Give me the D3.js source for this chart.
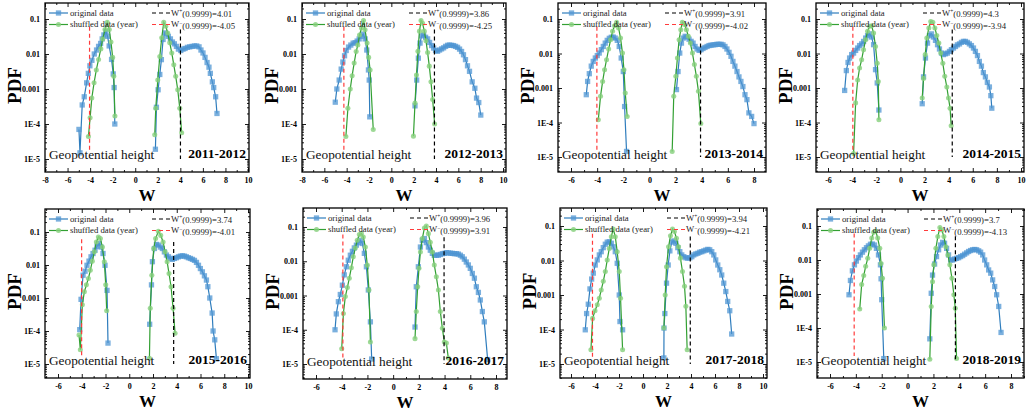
<!DOCTYPE html>
<html>
<head>
<meta charset="utf-8">
<script src="https://cdn.jsdelivr.net/npm/d3@7"></script>
<style>
body { margin: 0; background: #fff; }
svg { display: block; font-family: "Liberation Serif", "Times New Roman", serif; }
</style>
</head>
<body>
<svg id="chart" width="1026" height="416"></svg>
<script>
// ---- values ----
var years = ["2011-2012", "2012-2013", "2013-2014", "2014-2015",
             "2015-2016", "2016-2017", "2017-2018", "2018-2019"];
var wPlus = [4.01, 3.86, 3.91, 4.3, 3.74, 3.96, 3.94, 3.7];
var wMinus = [-4.05, -4.25, -4.02, -3.94, -4.01, -3.91, -4.21, -4.13];
var wMinusText = ["-4.05", "-4.25", "-4.02", "-3.94", "-4.01", "3.91", "-4.21", "-4.13"];
var xLabelRange = [[-8, 10], [-8, 10], [-6, 8], [-6, 10], [-6, 10], [-6, 8], [-6, 10], [-6, 8]];
var yTickValues = [1e-5, 1e-4, 1e-3, 1e-2, 1e-1];
var yTickText = ["1E-5", "1E-4", "0.001", "0.01", "0.1"];
var seriesNames = ["original data", "shuffled data (year)"];

var origNeg2011 = [[-4.99,7e-5],[-4.9,1.5e-5],[-4.7,3.5e-4],[-4.52,6e-4],[-4.31,1.5e-3],[-4.16,2.8e-3],[-4.02,4.6e-3],[-3.84,6.6e-3],[-3.63,0.010],[-3.43,0.013],[-3.25,0.0165],[-3.07,0.020],[-2.93,0.027],[-2.78,0.035],[-2.6,0.044],[-2.45,0.032],[-2.31,0.017],[-2.1,0.007],[-1.95,2.7e-3],[-1.87,1.1e-3],[-1.81,1e-4]];
var shufNeg2011 = [[-4.15,4.4e-5],[-4.0,1.5e-4],[-3.85,5.5e-4],[-3.65,1.5e-3],[-3.45,3.5e-3],[-3.25,7e-3],[-3.05,0.014],[-2.88,0.027],[-2.68,0.05],[-2.48,0.08],[-2.3,0.05],[-2.15,0.022],[-2.0,0.008],[-1.9,2.3e-3],[-1.8,1.7e-4]];
var origPos2011 = [[1.79,1.9e-5],[1.88,3e-4],[2.03,9.5e-4],[2.18,2.6e-3],[2.32,6.9e-3],[2.47,0.026],[2.62,0.04],[2.77,0.037],[2.94,0.032],[3.12,0.027],[3.3,0.022],[3.47,0.0195],[3.65,0.0165],[3.83,0.0138],[4.04,0.0126],[4.24,0.0138],[4.42,0.0144],[4.63,0.0155],[4.83,0.016],[5.04,0.0165],[5.25,0.017],[5.45,0.017],[5.66,0.016],[5.83,0.013],[6.01,0.0107],[6.19,8e-3],[6.37,5.7e-3],[6.54,4.2e-3],[6.66,2.8e-3],[6.84,1.6e-3],[6.96,1.1e-3],[7.13,6e-4],[7.25,2e-4]];
var shufPos2011 = [[1.73,4.9e-5],[1.82,2.8e-4],[2.0,1.8e-3],[2.18,8.5e-3],[2.35,0.029],[2.53,0.08],[2.71,0.062],[2.88,0.04],[3.06,0.021],[3.24,0.0107],[3.42,4.9e-3],[3.59,2.3e-3],[3.77,9.5e-4],[3.95,2.8e-4],[4.12,5.6e-5]];

var origNeg2012 = [[-5.02,4.2e-4],[-4.88,1e-3],[-4.67,1.8e-3],[-4.49,3.7e-3],[-4.34,5.9e-3],[-4.19,8.9e-3],[-4.04,0.0126],[-3.83,0.0158],[-3.63,0.018],[-3.42,0.0204],[-3.24,0.021],[-3.06,0.0234],[-2.88,0.027],[-2.7,0.032],[-2.52,0.037],[-2.35,0.027],[-2.2,0.013],[-2.05,3.5e-3],[-1.98,1.8e-3],[-1.93,1.6e-4]];
var shufNeg2012 = [[-4.07,4.4e-5],[-3.89,2.8e-4],[-3.68,1e-3],[-3.51,2.4e-3],[-3.33,5.5e-3],[-3.15,0.0118],[-3.0,0.018],[-2.85,0.035],[-2.67,0.055],[-2.49,0.091],[-2.35,0.049],[-2.17,0.0205],[-2.03,8e-3],[-1.9,3.5e-3],[-1.62,7e-5]];
var origPos2012 = [[2.12,3.3e-4],[2.27,1.8e-3],[2.42,7.6e-3],[2.57,0.0205],[2.71,0.033],[2.89,0.035],[3.07,0.030],[3.25,0.027],[3.43,0.0214],[3.61,0.0174],[3.79,0.0148],[3.96,0.0126],[4.14,0.012],[4.32,0.013],[4.5,0.014],[4.68,0.015],[4.86,0.0165],[5.04,0.0177],[5.21,0.018],[5.39,0.0177],[5.57,0.0174],[5.75,0.0165],[5.93,0.0155],[6.11,0.0138],[6.29,0.0118],[6.46,9.5e-3],[6.64,6.9e-3],[6.82,4.6e-3],[7.0,3.2e-3],[7.24,1.6e-3],[7.48,1.05e-3],[7.63,5.5e-4],[7.83,4.1e-4],[8.01,1.8e-4]];
var shufPos2012 = [[1.98,4.5e-5],[2.12,4e-4],[2.25,2.5e-3],[2.38,0.012],[2.52,0.045],[2.66,0.09],[2.8,0.075],[2.95,0.045],[3.1,0.024],[3.25,0.011],[3.4,4.5e-3],[3.55,1.6e-3],[3.7,5e-4],[3.88,1e-4]];

var origNeg2013 = [[-4.83,6.4e-4],[-4.73,1.55e-3],[-4.6,2.6e-3],[-4.45,4.3e-3],[-4.3,5.9e-3],[-4.14,7.4e-3],[-3.99,8.7e-3],[-3.84,0.0103],[-3.68,0.0129],[-3.53,0.016],[-3.38,0.02],[-3.23,0.024],[-3.07,0.0275],[-2.92,0.0295],[-2.77,0.030],[-2.62,0.028],[-2.46,0.024],[-2.31,0.016],[-2.16,7.4e-3],[-2.0,3e-3],[-1.9,2.9e-4],[-1.75,1.45e-5]];
var shufNeg2013 = [[-3.91,1.2e-4],[-3.74,5.8e-4],[-3.58,1.55e-3],[-3.43,3.4e-3],[-3.28,6.6e-3],[-3.12,0.0135],[-2.97,0.025],[-2.82,0.044],[-2.67,0.064],[-2.51,0.08],[-2.36,0.055],[-2.21,0.028],[-2.06,0.0103],[-1.95,3.4e-3],[-1.85,7.2e-4],[-1.7,1.5e-4]];
var origPos2013 = [[2.07,9e-4],[2.19,3e-3],[2.32,0.0103],[2.45,0.02],[2.58,0.028],[2.73,0.0315],[2.88,0.030],[3.03,0.026],[3.19,0.0225],[3.34,0.02],[3.49,0.016],[3.64,0.0135],[3.8,0.0123],[3.95,0.0129],[4.1,0.014],[4.25,0.015],[4.41,0.016],[4.56,0.017],[4.71,0.0174],[4.87,0.0178],[5.02,0.018],[5.17,0.0185],[5.32,0.0185],[5.48,0.0185],[5.63,0.0178],[5.78,0.016],[5.93,0.0135],[6.09,0.0108],[6.24,8.3e-3],[6.39,5.9e-3],[6.54,4.3e-3],[6.7,3e-3],[6.85,2.1e-3],[7.0,1.55e-3],[7.15,1.1e-3],[7.31,6.4e-4],[7.46,4.6e-4],[7.61,1.9e-4],[7.82,1.5e-4],[8.0,9.3e-5]];
var shufPos2013 = [[1.74,1.45e-5],[1.86,5.8e-4],[2.02,2.2e-3],[2.14,7.4e-3],[2.27,0.025],[2.4,0.049],[2.52,0.08],[2.68,0.069],[2.83,0.049],[2.98,0.0315],[3.13,0.02],[3.29,0.0103],[3.44,4.8e-3],[3.59,2.2e-3],[3.75,8e-4],[3.93,9.3e-5]];

var origNeg2014 = [[-4.62,8.5e-4],[-4.48,3.2e-3],[-4.34,5.5e-3],[-4.21,7.4e-3],[-4.04,9.3e-3],[-3.88,0.0103],[-3.71,0.0123],[-3.54,0.0144],[-3.38,0.017],[-3.21,0.019],[-3.05,0.0224],[-2.88,0.028],[-2.72,0.033],[-2.55,0.037],[-2.39,0.030],[-2.22,0.018],[-2.06,3.4e-3],[-1.92,1.4e-3],[-1.78,2.3e-4]];
var shufNeg2014 = [[-3.88,1.26e-5],[-3.71,3.7e-4],[-3.54,1.7e-3],[-3.38,3.8e-3],[-3.21,6.6e-3],[-3.05,0.0129],[-2.88,0.025],[-2.72,0.044],[-2.55,0.062],[-2.39,0.064],[-2.22,0.039],[-2.06,0.016],[-1.92,5.2e-3],[-1.83,1.55e-3],[-1.78,1.2e-4]];
var origPos2014 = [[1.81,3.5e-4],[1.92,2.1e-3],[2.08,7.4e-3],[2.25,0.02],[2.41,0.033],[2.58,0.037],[2.74,0.030],[2.91,0.024],[3.08,0.018],[3.24,0.0135],[3.41,0.0103],[3.57,9.3e-3],[3.74,9.8e-3],[3.9,0.0103],[4.07,0.0115],[4.23,0.0129],[4.4,0.0144],[4.57,0.016],[4.73,0.0178],[4.9,0.019],[5.06,0.021],[5.23,0.0224],[5.39,0.0224],[5.56,0.021],[5.72,0.019],[5.89,0.017],[6.06,0.0144],[6.22,0.0115],[6.39,8.7e-3],[6.55,5.9e-3],[6.72,4.3e-3],[6.88,2.8e-3],[7.05,2.1e-3],[7.21,1.45e-3],[7.38,1.07e-3],[7.5,6e-4],[7.58,2.6e-4]];
var shufPos2014 = [[1.81,5.1e-4],[1.92,1.9e-3],[2.06,9.3e-3],[2.19,0.028],[2.36,0.055],[2.52,0.085],[2.69,0.08],[2.86,0.055],[3.02,0.033],[3.19,0.02],[3.35,0.0103],[3.52,5.2e-3],[3.68,2.2e-3],[3.85,1.07e-3],[3.99,5.1e-4],[4.12,2.6e-4],[4.21,8.1e-5]];

var origNeg2015 = [[-4.17,1.1e-4],[-4.06,9.1e-4],[-3.89,4.9e-3],[-3.72,6.5e-3],[-3.56,9.8e-3],[-3.39,0.0131],[-3.22,0.0177],[-3.05,0.0223],[-2.88,0.028],[-2.71,0.037],[-2.54,0.045],[-2.38,0.035],[-2.21,0.0223],[-2.04,9.8e-3],[-1.87,1.7e-3],[-1.79,4.3e-5]];
var shufNeg2015 = [[-4.23,7.6e-5],[-4.12,2.7e-5],[-3.95,6.2e-4],[-3.78,1.55e-3],[-3.61,2.5e-3],[-3.44,3.9e-3],[-3.28,6.9e-3],[-3.11,0.0131],[-2.94,0.025],[-2.77,0.05],[-2.6,0.071],[-2.43,0.063],[-2.26,0.035],[-2.1,0.0126],[-1.98,2.5e-3],[-1.9,4.1e-4]];
var origPos2015 = [[1.72,1.6e-4],[1.87,2.5e-3],[1.95,0.0126],[2.12,0.0316],[2.29,0.042],[2.46,0.040],[2.62,0.035],[2.79,0.0316],[2.96,0.025],[3.13,0.02],[3.3,0.0177],[3.47,0.0158],[3.63,0.0148],[3.8,0.0158],[3.97,0.0166],[4.14,0.0177],[4.31,0.0186],[4.48,0.019],[4.65,0.0186],[4.81,0.0177],[4.98,0.0166],[5.15,0.0158],[5.32,0.0148],[5.49,0.0138],[5.66,0.012],[5.83,9.8e-3],[5.99,7.8e-3],[6.16,6.2e-3],[6.33,4.7e-3],[6.5,3.5e-3],[6.62,2.2e-3],[6.78,1e-3],[6.98,3.5e-4],[7.06,1e-4],[7.2,5.4e-5],[7.34,1.45e-5]];
var shufPos2015 = [[1.7,1.5e-5],[1.77,4.9e-4],[1.9,4.9e-3],[2.06,0.0316],[2.22,0.063],[2.45,0.105],[2.65,0.079],[2.85,0.05],[3.02,0.025],[3.19,0.0126],[3.35,5.5e-3],[3.52,2.2e-3],[3.69,4.9e-4],[3.86,8.5e-5]];

var origNeg2016 = [[-4.52,1e-4],[-4.42,2.9e-4],[-4.26,6.6e-4],[-4.11,1.07e-3],[-3.95,2e-3],[-3.8,4e-3],[-3.64,6.9e-3],[-3.49,0.0107],[-3.33,0.015],[-3.17,0.0195],[-3.02,0.0245],[-2.86,0.0295],[-2.71,0.035],[-2.55,0.041],[-2.4,0.033],[-2.24,0.017],[-2.08,6.9e-3],[-1.93,1.45e-3],[-1.77,1.7e-4],[-1.67,1.4e-5]];
var shufNeg2016 = [[-4.0,2.8e-5],[-3.87,3e-4],[-3.72,9.3e-4],[-3.56,1.7e-3],[-3.41,3.2e-3],[-3.25,6.5e-3],[-3.1,0.0135],[-2.94,0.0245],[-2.79,0.041],[-2.63,0.06],[-2.47,0.064],[-2.32,0.051],[-2.16,0.026],[-2.01,7.7e-3],[-1.88,1.45e-3],[-1.77,4.4e-5]];
var origPos2016 = [[1.7,1.2e-4],[1.8,1.8e-3],[1.96,6.9e-3],[2.12,0.026],[2.27,0.041],[2.43,0.046],[2.58,0.035],[2.74,0.026],[2.89,0.021],[3.05,0.017],[3.2,0.015],[3.36,0.015],[3.52,0.015],[3.67,0.0158],[3.83,0.0166],[3.98,0.017],[4.14,0.0178],[4.29,0.0175],[4.45,0.0172],[4.6,0.017],[4.76,0.0166],[4.92,0.0166],[5.07,0.0162],[5.23,0.015],[5.38,0.0135],[5.54,0.0115],[5.69,9.5e-3],[5.85,7.8e-3],[6.0,6.2e-3],[6.16,4.4e-3],[6.32,3.2e-3],[6.47,1.8e-3],[6.63,1.23e-3],[6.78,7.4e-4],[6.94,3.4e-4],[7.09,1.7e-4],[7.35,1.35e-5]];
var shufPos2016 = [[1.7,5.5e-5],[1.8,3.4e-4],[1.91,1.8e-3],[2.01,6.2e-3],[2.12,0.0187],[2.27,0.046],[2.43,0.093],[2.58,0.107],[2.74,0.064],[2.89,0.036],[3.05,0.0187],[3.2,7.8e-3],[3.36,3.5e-3],[3.52,1.45e-3],[3.67,3.4e-4],[3.83,1.1e-4],[3.98,4.4e-5],[4.14,4.1e-5],[4.29,1.5e-5]];

var origNeg2017 = [[-4.81,9.8e-5],[-4.7,2.9e-4],[-4.56,5.4e-4],[-4.42,1.5e-3],[-4.28,2.9e-3],[-4.14,4.3e-3],[-3.98,7.4e-3],[-3.81,0.0104],[-3.64,0.0145],[-3.48,0.018],[-3.31,0.0236],[-3.14,0.0296],[-2.98,0.034],[-2.81,0.035],[-2.64,0.0316],[-2.48,0.025],[-2.31,0.018],[-2.15,8.3e-3],[-1.98,1e-3],[-1.92,1.7e-4],[-1.7,9.8e-5]];
var shufNeg2017 = [[-4.34,2.6e-5],[-4.2,2.1e-4],[-4.0,3.5e-4],[-3.81,5.2e-4],[-3.64,8.1e-4],[-3.48,1.4e-3],[-3.31,2.5e-3],[-3.14,4.8e-3],[-2.98,0.0104],[-2.81,0.0224],[-2.64,0.049],[-2.48,0.082],[-2.31,0.049],[-2.15,0.018],[-1.98,4.8e-3],[-1.87,8.1e-4],[-1.7,2.6e-5]];
var origPos2017 = [[1.74,1.5e-5],[1.75,1.1e-4],[1.82,2.9e-4],[1.96,2.2e-3],[2.1,7.4e-3],[2.24,0.019],[2.4,0.034],[2.57,0.037],[2.74,0.0316],[2.9,0.0236],[3.07,0.018],[3.23,0.0145],[3.4,0.0129],[3.57,0.012],[3.73,0.0117],[3.9,0.012],[4.07,0.0129],[4.23,0.0145],[4.4,0.0155],[4.57,0.0162],[4.73,0.0174],[4.9,0.018],[5.07,0.019],[5.23,0.02],[5.4,0.021],[5.56,0.0204],[5.73,0.018],[5.9,0.0145],[6.06,0.0104],[6.23,7.4e-3],[6.4,5.4e-3],[6.56,3.8e-3],[6.73,2.2e-3],[6.9,1.26e-3],[7.06,6.5e-4],[7.23,3.5e-4],[7.39,7.4e-5]];
var shufPos2017 = [[1.74,1.1e-4],[1.85,1e-3],[1.96,6.6e-3],[2.13,0.025],[2.29,0.052],[2.46,0.082],[2.62,0.069],[2.79,0.044],[2.96,0.025],[3.12,0.0117],[3.29,4.8e-3],[3.46,1.8e-3],[3.57,4.7e-4],[3.68,2.6e-5]];

var origNeg2018 = [[-4.53,9.5e-4],[-4.42,2.5e-3],[-4.27,4.8e-3],[-4.11,7.2e-3],[-3.96,9.3e-3],[-3.8,0.0117],[-3.65,0.0141],[-3.49,0.017],[-3.34,0.02],[-3.18,0.023],[-3.03,0.026],[-2.87,0.029],[-2.72,0.0295],[-2.56,0.0276],[-2.41,0.022],[-2.25,0.0141],[-2.1,7.2e-3],[-2.05,2.8e-3],[-2.0,6.8e-4],[-1.84,1.26e-5]];
var shufNeg2018 = [[-3.7,3.6e-4],[-3.55,1.9e-3],[-3.39,3.5e-3],[-3.24,6.5e-3],[-3.08,0.0112],[-2.93,0.022],[-2.77,0.044],[-2.62,0.065],[-2.46,0.071],[-2.31,0.044],[-2.15,0.022],[-2.05,7.9e-3],[-1.94,2.9e-3],[-1.79,1e-4]];
var origPos2018 = [[1.72,4.8e-5],[1.83,1.05e-3],[1.93,3.6e-3],[2.09,7.6e-3],[2.24,0.0126],[2.4,0.02],[2.55,0.0276],[2.71,0.033],[2.86,0.031],[3.02,0.022],[3.17,0.0141],[3.33,0.01],[3.48,0.01],[3.64,0.0107],[3.79,0.0112],[3.95,0.0117],[4.1,0.0126],[4.26,0.0135],[4.41,0.0148],[4.57,0.0162],[4.72,0.0178],[4.88,0.019],[5.03,0.02],[5.19,0.0204],[5.34,0.02],[5.5,0.0186],[5.65,0.017],[5.81,0.0141],[5.96,0.01],[6.12,7.2e-3],[6.27,5.1e-3],[6.43,4.1e-3],[6.58,2.6e-3],[6.74,1.66e-3],[6.89,9.5e-4],[7.05,4.3e-4],[7.23,7.4e-5]];
var shufPos2018 = [[1.72,1.2e-5],[1.83,4.3e-4],[1.93,2.3e-3],[2.03,7.2e-3],[2.19,0.022],[2.34,0.049],[2.5,0.09],[2.65,0.076],[2.81,0.049],[2.96,0.0246],[3.12,0.0141],[3.27,7.2e-3],[3.43,2.9e-3],[3.58,9.5e-4],[3.69,3.8e-4],[3.79,1.26e-5]];

var origNeg = [origNeg2011, origNeg2012, origNeg2013, origNeg2014, origNeg2015, origNeg2016, origNeg2017, origNeg2018];
var origPos = [origPos2011, origPos2012, origPos2013, origPos2014, origPos2015, origPos2016, origPos2017, origPos2018];
var shufNeg = [shufNeg2011, shufNeg2012, shufNeg2013, shufNeg2014, shufNeg2015, shufNeg2016, shufNeg2017, shufNeg2018];
var shufPos = [shufPos2011, shufPos2012, shufPos2013, shufPos2014, shufPos2015, shufPos2016, shufPos2017, shufPos2018];

// ---- layout (pixels) ----
var boxes = [
    {l: 45, r: 249, t: 3, b: 172}, {l: 302, r: 506, t: 3, b: 172},
    {l: 558, r: 766, t: 3, b: 172}, {l: 816, r: 1024, t: 3, b: 172},
    {l: 45, r: 250, t: 209, b: 378}, {l: 303, r: 507, t: 208, b: 379},
    {l: 560, r: 767, t: 208, b: 378}, {l: 817, r: 1024, t: 209, b: 378}
];
// pixel of first / last labelled x tick, and of 1E-5 / 0.1
var xPix = [[45, 248], [302, 503], [571, 754], [828, 1021], [58, 248], [316, 496], [571, 763], [830, 1011]];
var yPix = [[159, 19], [159, 19], [157, 19], [157, 19], [364, 232], [364, 227], [364, 226], [362, 226]];

var BLUE = "#2f7dbd", BLUE_FILL = "#4f95d3", GREEN = "#33a033", GREEN_FILL = "#86cf7c", RED = "#ff3b3b";
var SERIF = "'Liberation Serif', 'Times New Roman', serif";

var svg = d3.select("#chart");

function styleAxis(g) {
    g.select(".domain").remove();
    g.attr("font-family", SERIF).attr("font-size", 8).attr("font-weight", "bold");
    g.selectAll(".tick line").attr("stroke", "#000").attr("stroke-width", 0.9);
    g.selectAll(".tick text").attr("fill", "#000");
}

function drawPanel(i) {
    var b = boxes[i];
    var x = d3.scaleLinear().domain(xLabelRange[i]).range(xPix[i]);
    var y = d3.scaleLog().domain([1e-5, 0.1]).range(yPix[i]);
    var g = svg.append("g");

    // tick values
    var xLo = Math.ceil(x.invert(b.l) - 1e-6), xHi = Math.floor(x.invert(b.r) + 1e-6);
    var xMaj = [], xMin = [];
    for (var v = xLo; v <= xHi; v++) { (v % 2 === 0 ? xMaj : xMin).push(v); }
    var yLo = y.invert(b.b), yHi = y.invert(b.t);
    var yMin = [];
    for (var e = -6; e <= 0; e++) {
        for (var m = 2; m <= 9; m++) {
            var val = m * Math.pow(10, e);
            if (val >= yLo && val <= yHi) yMin.push(val);
        }
    }
    var labelled = function(d) { return d >= xLabelRange[i][0] && d <= xLabelRange[i][1] ? String(d) : ""; };

    g.append("g").attr("transform", "translate(0," + b.b + ")")
        .call(d3.axisBottom(x).tickValues(xMaj).tickSize(-4).tickPadding(5).tickFormat(labelled)).call(styleAxis);
    g.append("g").attr("transform", "translate(0," + b.b + ")")
        .call(d3.axisBottom(x).tickValues(xMin).tickSize(-2).tickFormat("")).call(styleAxis);
    g.append("g").attr("transform", "translate(0," + b.t + ")")
        .call(d3.axisTop(x).tickValues(xMaj).tickSize(-4).tickFormat("")).call(styleAxis);
    g.append("g").attr("transform", "translate(0," + b.t + ")")
        .call(d3.axisTop(x).tickValues(xMin).tickSize(-2).tickFormat("")).call(styleAxis);
    g.append("g").attr("transform", "translate(" + b.l + ",0)")
        .call(d3.axisLeft(y).tickValues(yTickValues).tickSize(-4).tickPadding(5)
            .tickFormat(function(d, j) { return yTickText[j]; })).call(styleAxis);
    g.append("g").attr("transform", "translate(" + b.l + ",0)")
        .call(d3.axisLeft(y).tickValues(yMin).tickSize(-2).tickFormat("")).call(styleAxis);
    g.append("g").attr("transform", "translate(" + b.r + ",0)")
        .call(d3.axisRight(y).tickValues(yTickValues).tickSize(-4).tickFormat("")).call(styleAxis);
    g.append("g").attr("transform", "translate(" + b.r + ",0)")
        .call(d3.axisRight(y).tickValues(yMin).tickSize(-2).tickFormat("")).call(styleAxis);

    g.append("rect").attr("x", b.l).attr("y", b.t).attr("width", b.r - b.l).attr("height", b.b - b.t)
        .attr("fill", "none").attr("stroke", "#000").attr("stroke-width", 1.3);

    // axis titles
    g.append("text").attr("transform", "translate(" + (b.l - 24) + "," + ((b.t + b.b) / 2 - 2) + ") rotate(-90)")
        .attr("text-anchor", "middle").attr("font-family", SERIF).attr("font-weight", "bold")
        .attr("font-size", 19).text("PDF");
    g.append("text").attr("x", (b.l + b.r) / 2).attr("y", b.b + 29).attr("text-anchor", "middle")
        .attr("font-family", SERIF).attr("font-weight", "bold").attr("font-size", 17).text("W");

    // curves
    var line = d3.line().x(function(d) { return x(d[0]); }).y(function(d) { return y(d[1]); });
    var square = d3.symbol().type(d3.symbolSquare).size(28);
    var circle = d3.symbol().type(d3.symbolCircle).size(20);

    [origNeg[i], origPos[i]].forEach(function(s) {
        g.append("path").datum(s).attr("d", line).attr("fill", "none").attr("stroke", BLUE).attr("stroke-width", 1.2);
        g.append("g").selectAll("path").data(s).join("path")
            .attr("transform", function(d) { return "translate(" + x(d[0]) + "," + y(d[1]) + ")"; })
            .attr("d", square).attr("fill", BLUE_FILL).attr("fill-opacity", 0.75);
    });
    [shufNeg[i], shufPos[i]].forEach(function(s) {
        g.append("path").datum(s).attr("d", line).attr("fill", "none").attr("stroke", GREEN).attr("stroke-width", 1.2);
        g.append("g").selectAll("path").data(s).join("path")
            .attr("transform", function(d) { return "translate(" + x(d[0]) + "," + y(d[1]) + ")"; })
            .attr("d", circle).attr("fill", GREEN_FILL).attr("fill-opacity", 0.8);
    });

    // threshold lines
    g.append("line").attr("x1", x(wPlus[i])).attr("x2", x(wPlus[i])).attr("y1", y(0.05)).attr("y2", y(1e-5))
        .attr("stroke", "#000").attr("stroke-width", 1.2).attr("stroke-dasharray", "4,3");
    g.append("line").attr("x1", x(wMinus[i])).attr("x2", x(wMinus[i])).attr("y1", y(0.06)).attr("y2", y(1.5e-5))
        .attr("stroke", RED).attr("stroke-width", 1.2).attr("stroke-dasharray", "4,3");

    // legend
    var lg = g.append("g").attr("font-family", SERIF).attr("font-size", 8.7).attr("fill", "#222");
    var rows = [b.t + 10, b.t + 21.5];
    lg.append("line").attr("x1", b.l + 4).attr("x2", b.l + 23).attr("y1", rows[0]).attr("y2", rows[0])
        .attr("stroke", BLUE).attr("stroke-width", 1.2);
    lg.append("path").attr("d", square).attr("transform", "translate(" + (b.l + 13.5) + "," + rows[0] + ")")
        .attr("fill", BLUE_FILL).attr("fill-opacity", 0.75);
    lg.append("line").attr("x1", b.l + 4).attr("x2", b.l + 23).attr("y1", rows[1]).attr("y2", rows[1])
        .attr("stroke", GREEN).attr("stroke-width", 1.2);
    lg.append("path").attr("d", circle).attr("transform", "translate(" + (b.l + 13.5) + "," + rows[1] + ")")
        .attr("fill", GREEN_FILL).attr("fill-opacity", 0.8);
    lg.append("text").attr("x", b.l + 25).attr("y", rows[0]).attr("dy", "0.33em").text(seriesNames[0]);
    lg.append("text").attr("x", b.l + 25).attr("y", rows[1]).attr("dy", "0.33em").text(seriesNames[1]);

    lg.append("line").attr("x1", b.l + 107).attr("x2", b.l + 125).attr("y1", rows[0]).attr("y2", rows[0])
        .attr("stroke", "#000").attr("stroke-width", 1.2).attr("stroke-dasharray", "4,3");
    lg.append("line").attr("x1", b.l + 107).attr("x2", b.l + 125).attr("y1", rows[1]).attr("y2", rows[1])
        .attr("stroke", RED).attr("stroke-width", 1.2).attr("stroke-dasharray", "4,3");
    var t1 = lg.append("text").attr("x", b.l + 126).attr("y", rows[0]).attr("dy", "0.33em");
    t1.append("tspan").text("W");
    t1.append("tspan").attr("font-size", 5.5).attr("dy", "-0.45em").text("+");
    t1.append("tspan").attr("dy", "0.45em").text("(0.9999)=" + wPlus[i]);
    var t2 = lg.append("text").attr("x", b.l + 126).attr("y", rows[1]).attr("dy", "0.33em");
    t2.append("tspan").text("W");
    t2.append("tspan").attr("font-size", 5.5).attr("dy", "-0.45em").text("\u2212");
    t2.append("tspan").attr("dy", "0.45em").text("(0.9999)=" + wMinusText[i]);

    // in-plot labels
    g.append("text").attr("x", b.l + 4).attr("y", b.b - 13).attr("font-family", SERIF)
        .attr("font-size", 13.3).attr("fill", "#111").text("Geopotential height");
    g.append("text").attr("x", b.r - 3).attr("y", b.b - 14).attr("text-anchor", "end").attr("font-family", SERIF)
        .attr("font-weight", "bold").attr("font-size", 13.5).text(years[i]);
}

years.forEach(function(yr, i) { drawPanel(i); });
</script>
</body>
</html>
